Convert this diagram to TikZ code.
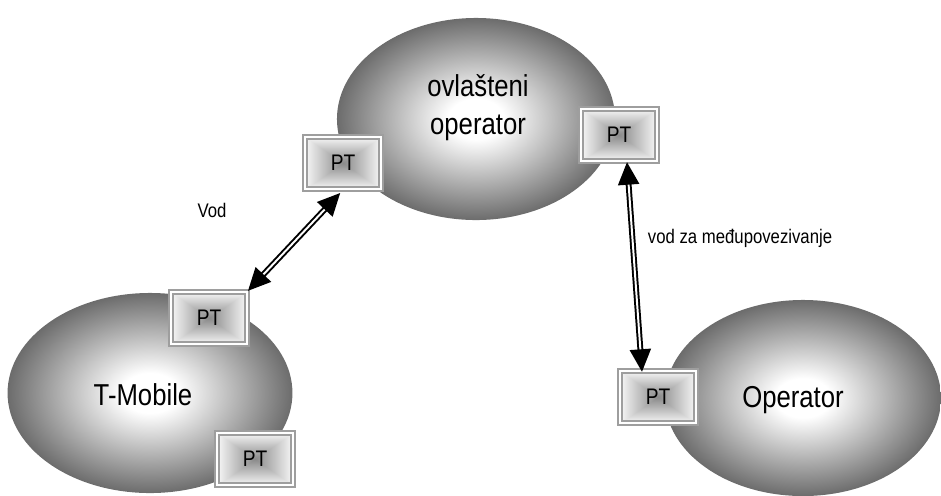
\documentclass[tikz,border=0pt]{standalone}
\usepackage{fontspec}
\setmainfont{Liberation Sans}[FakeStretch=0.85]
\usetikzlibrary{shapes.geometric,arrows.meta}

\definecolor{blobgray}{RGB}{108,108,108}
\definecolor{framegray}{RGB}{158,158,158}

% soft centre for the ellipses
\pgfdeclareradialshading{blobfill}{\pgfpointorigin}{
  color(0bp)=(white); color(5bp)=(white); color(25bp)=(blobgray); color(50bp)=(blobgray)}

% rectangular gradient for the PT boxes
\pgfdeclarefunctionalshading{ptfill}{\pgfpoint{-50bp}{-50bp}}{\pgfpoint{50bp}{50bp}}{}{
  abs exch abs 2 copy lt {exch} if pop
  25 div dup 1 gt {pop 1} if
  0.43 mul 0.54 add dup dup
}

\tikzset{
  blob/.style={ellipse, inner sep=0pt, shading=blobfill},
  ptbox/.style={rectangle, draw=framegray, double=white, double distance=1.8pt, line width=1.4pt,
    shading=ptfill, minimum width=1.9cm, minimum height=1.31cm, inner sep=0pt,
    font=\fontsize{16}{19}\selectfont},
  bigtext/.style={align=center, font=\fontsize{21.5}{27}\selectfont},
  smalltext/.style={font=\fontsize{14}{17}\selectfont},
  link/.style={double, double distance=1.4pt, line width=1.4pt, <->,
    >={Triangle[length=16pt,width=15pt]}},
}

\begin{document}
\begin{tikzpicture}[x=0.025cm, y=-0.025cm]
  \useasboundingbox (0,0) rectangle (941,495);

  % Ellipses
  \node[blob, minimum width=6.95cm, minimum height=5.05cm] at(476,119)(ovl){};
  \node[blob, minimum width=7.12cm, minimum height=5cm] at(150,393)(tmob){};
  \node[blob, minimum width=6.9cm, minimum height=4.9cm] at(803,398)(oper){};

  \node[bigtext] at(478,108)(ovltext){ovlašteni\\operator};
  \node[bigtext, anchor=base] at(143,405)(tmobtext){T-Mobile};
  \node[bigtext, anchor=base] at(793,407)(opertext){Operator};

  % PT boxes
  \node[ptbox] at(343,163)(ptA){PT};
  \node[ptbox] at(619,135)(ptB){PT};
  \node[ptbox] at(209,318)(ptC){PT};
  \node[ptbox] at(255,459)(ptD){PT};
  \node[ptbox] at(658,397)(ptE){PT};

  % Lines
  \draw[link] ([xshift=-2pt,yshift=-2pt]ptA.south) -- (ptC.north east);
  \draw[link] ([xshift=5.7pt]ptB.south) -- ([xshift=-11.4pt,yshift=-1.4pt]ptE.north);

  \node[smalltext, anchor=base] at(212,217)(vod){Vod};
  \node[smalltext, anchor=base west] at(643,243)(vodmp){vod za međupovezivanje};

\end{tikzpicture}
\end{document}
